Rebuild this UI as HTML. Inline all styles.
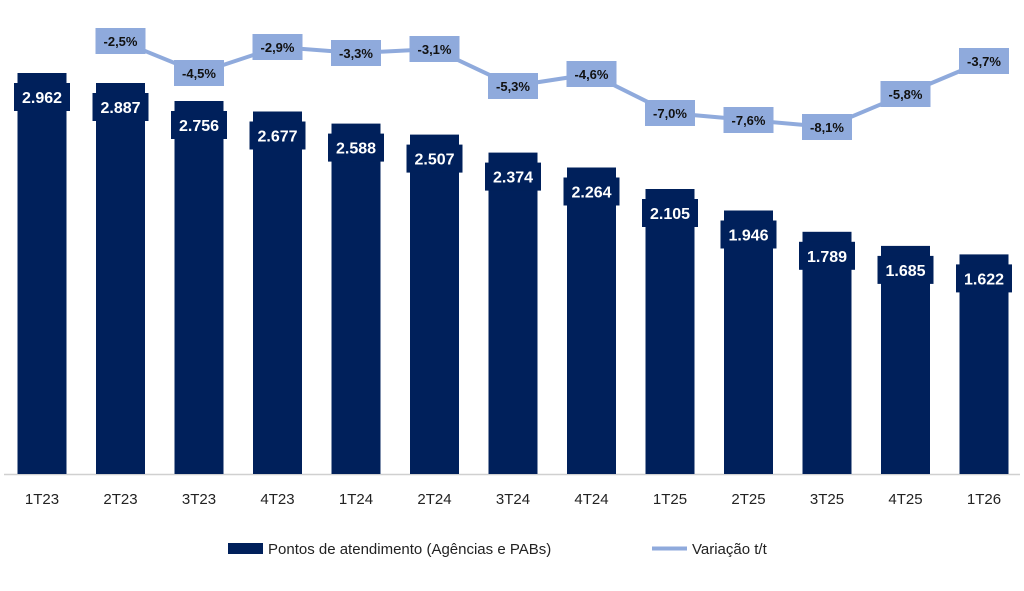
<!DOCTYPE html>
<html><head><meta charset="utf-8"><style>body{margin:0;background:#fff}</style></head><body>
<svg width="1024" height="586" xmlns="http://www.w3.org/2000/svg" font-family="Liberation Sans, sans-serif">
<line x1="4" y1="474.5" x2="1020" y2="474.5" stroke="#d0d0d0" stroke-width="1.5"/>
<g fill="#00205b">
<rect x="17.5" y="73" width="49" height="401"/><rect x="14" y="83" width="56" height="28"/>
<rect x="96" y="83" width="49" height="391"/><rect x="92.5" y="93" width="56" height="28"/>
<rect x="174.5" y="101" width="49" height="373"/><rect x="171" y="111" width="56" height="28"/>
<rect x="253" y="111.5" width="49" height="362.5"/><rect x="249.5" y="121.5" width="56" height="28"/>
<rect x="331.5" y="123.6" width="49" height="350.4"/><rect x="328" y="133.6" width="56" height="28"/>
<rect x="410" y="134.6" width="49" height="339.4"/><rect x="406.5" y="144.6" width="56" height="28"/>
<rect x="488.5" y="152.6" width="49" height="321.4"/><rect x="485" y="162.6" width="56" height="28"/>
<rect x="567" y="167.5" width="49" height="306.5"/><rect x="563.5" y="177.5" width="56" height="28"/>
<rect x="645.5" y="189" width="49" height="285"/><rect x="642" y="199" width="56" height="28"/>
<rect x="724" y="210.5" width="49" height="263.5"/><rect x="720.5" y="220.5" width="56" height="28"/>
<rect x="802.5" y="231.8" width="49" height="242.2"/><rect x="799" y="241.8" width="56" height="28"/>
<rect x="881" y="245.9" width="49" height="228.1"/><rect x="877.5" y="255.9" width="56" height="28"/>
<rect x="959.5" y="254.4" width="49" height="219.6"/><rect x="956" y="264.4" width="56" height="28"/>
</g>
<g fill="#fff" font-weight="bold" font-size="16" text-anchor="middle">
<text x="42" y="103">2.962</text><text x="120.5" y="113">2.887</text><text x="199" y="131">2.756</text>
<text x="277.5" y="141.5">2.677</text><text x="356" y="153.6">2.588</text><text x="434.5" y="164.6">2.507</text>
<text x="513" y="182.6">2.374</text><text x="591.5" y="197.5">2.264</text><text x="670" y="219">2.105</text>
<text x="748.5" y="240.5">1.946</text><text x="827" y="261.8">1.789</text><text x="905.5" y="275.9">1.685</text>
<text x="984" y="284.4">1.622</text>
</g>
<g fill="#222" font-size="15" text-anchor="middle">
<text x="42" y="504">1T23</text><text x="120.5" y="504">2T23</text><text x="199" y="504">3T23</text>
<text x="277.5" y="504">4T23</text><text x="356" y="504">1T24</text><text x="434.5" y="504">2T24</text>
<text x="513" y="504">3T24</text><text x="591.5" y="504">4T24</text><text x="670" y="504">1T25</text>
<text x="748.5" y="504">2T25</text><text x="827" y="504">3T25</text><text x="905.5" y="504">4T25</text>
<text x="984" y="504">1T26</text>
</g>
<polyline points="120.5,41 199,73 277.5,47 356,53 434.5,49 513,86 591.5,74 670,113 748.5,120 827,127 905.5,94 984,61" fill="none" stroke="#8faadc" stroke-width="4"/>
<g fill="#8faadc">
<rect x="95.5" y="28" width="50" height="26"/><rect x="174" y="60" width="50" height="26"/>
<rect x="252.5" y="34" width="50" height="26"/><rect x="331" y="40" width="50" height="26"/>
<rect x="409.5" y="36" width="50" height="26"/><rect x="488" y="73" width="50" height="26"/>
<rect x="566.5" y="61" width="50" height="26"/><rect x="645" y="100" width="50" height="26"/>
<rect x="723.5" y="107" width="50" height="26"/><rect x="802" y="114" width="50" height="26"/>
<rect x="880.5" y="81" width="50" height="26"/><rect x="959" y="48" width="50" height="26"/>
</g>
<g fill="#111" font-weight="bold" font-size="13" text-anchor="middle">
<text x="120.5" y="46">-2,5%</text><text x="199" y="78">-4,5%</text><text x="277.5" y="52">-2,9%</text>
<text x="356" y="58">-3,3%</text><text x="434.5" y="54">-3,1%</text><text x="513" y="91">-5,3%</text>
<text x="591.5" y="79">-4,6%</text><text x="670" y="118">-7,0%</text><text x="748.5" y="125">-7,6%</text>
<text x="827" y="132">-8,1%</text><text x="905.5" y="99">-5,8%</text><text x="984" y="66">-3,7%</text>
</g>
<rect x="228" y="543" width="35" height="11" fill="#00205b"/>
<text x="268" y="554" font-size="15" fill="#222">Pontos de atendimento (Agências e PABs)</text>
<line x1="652" y1="548.5" x2="687" y2="548.5" stroke="#8faadc" stroke-width="4"/>
<text x="692" y="554" font-size="15" fill="#222">Variação t/t</text>
</svg>
</body></html>
